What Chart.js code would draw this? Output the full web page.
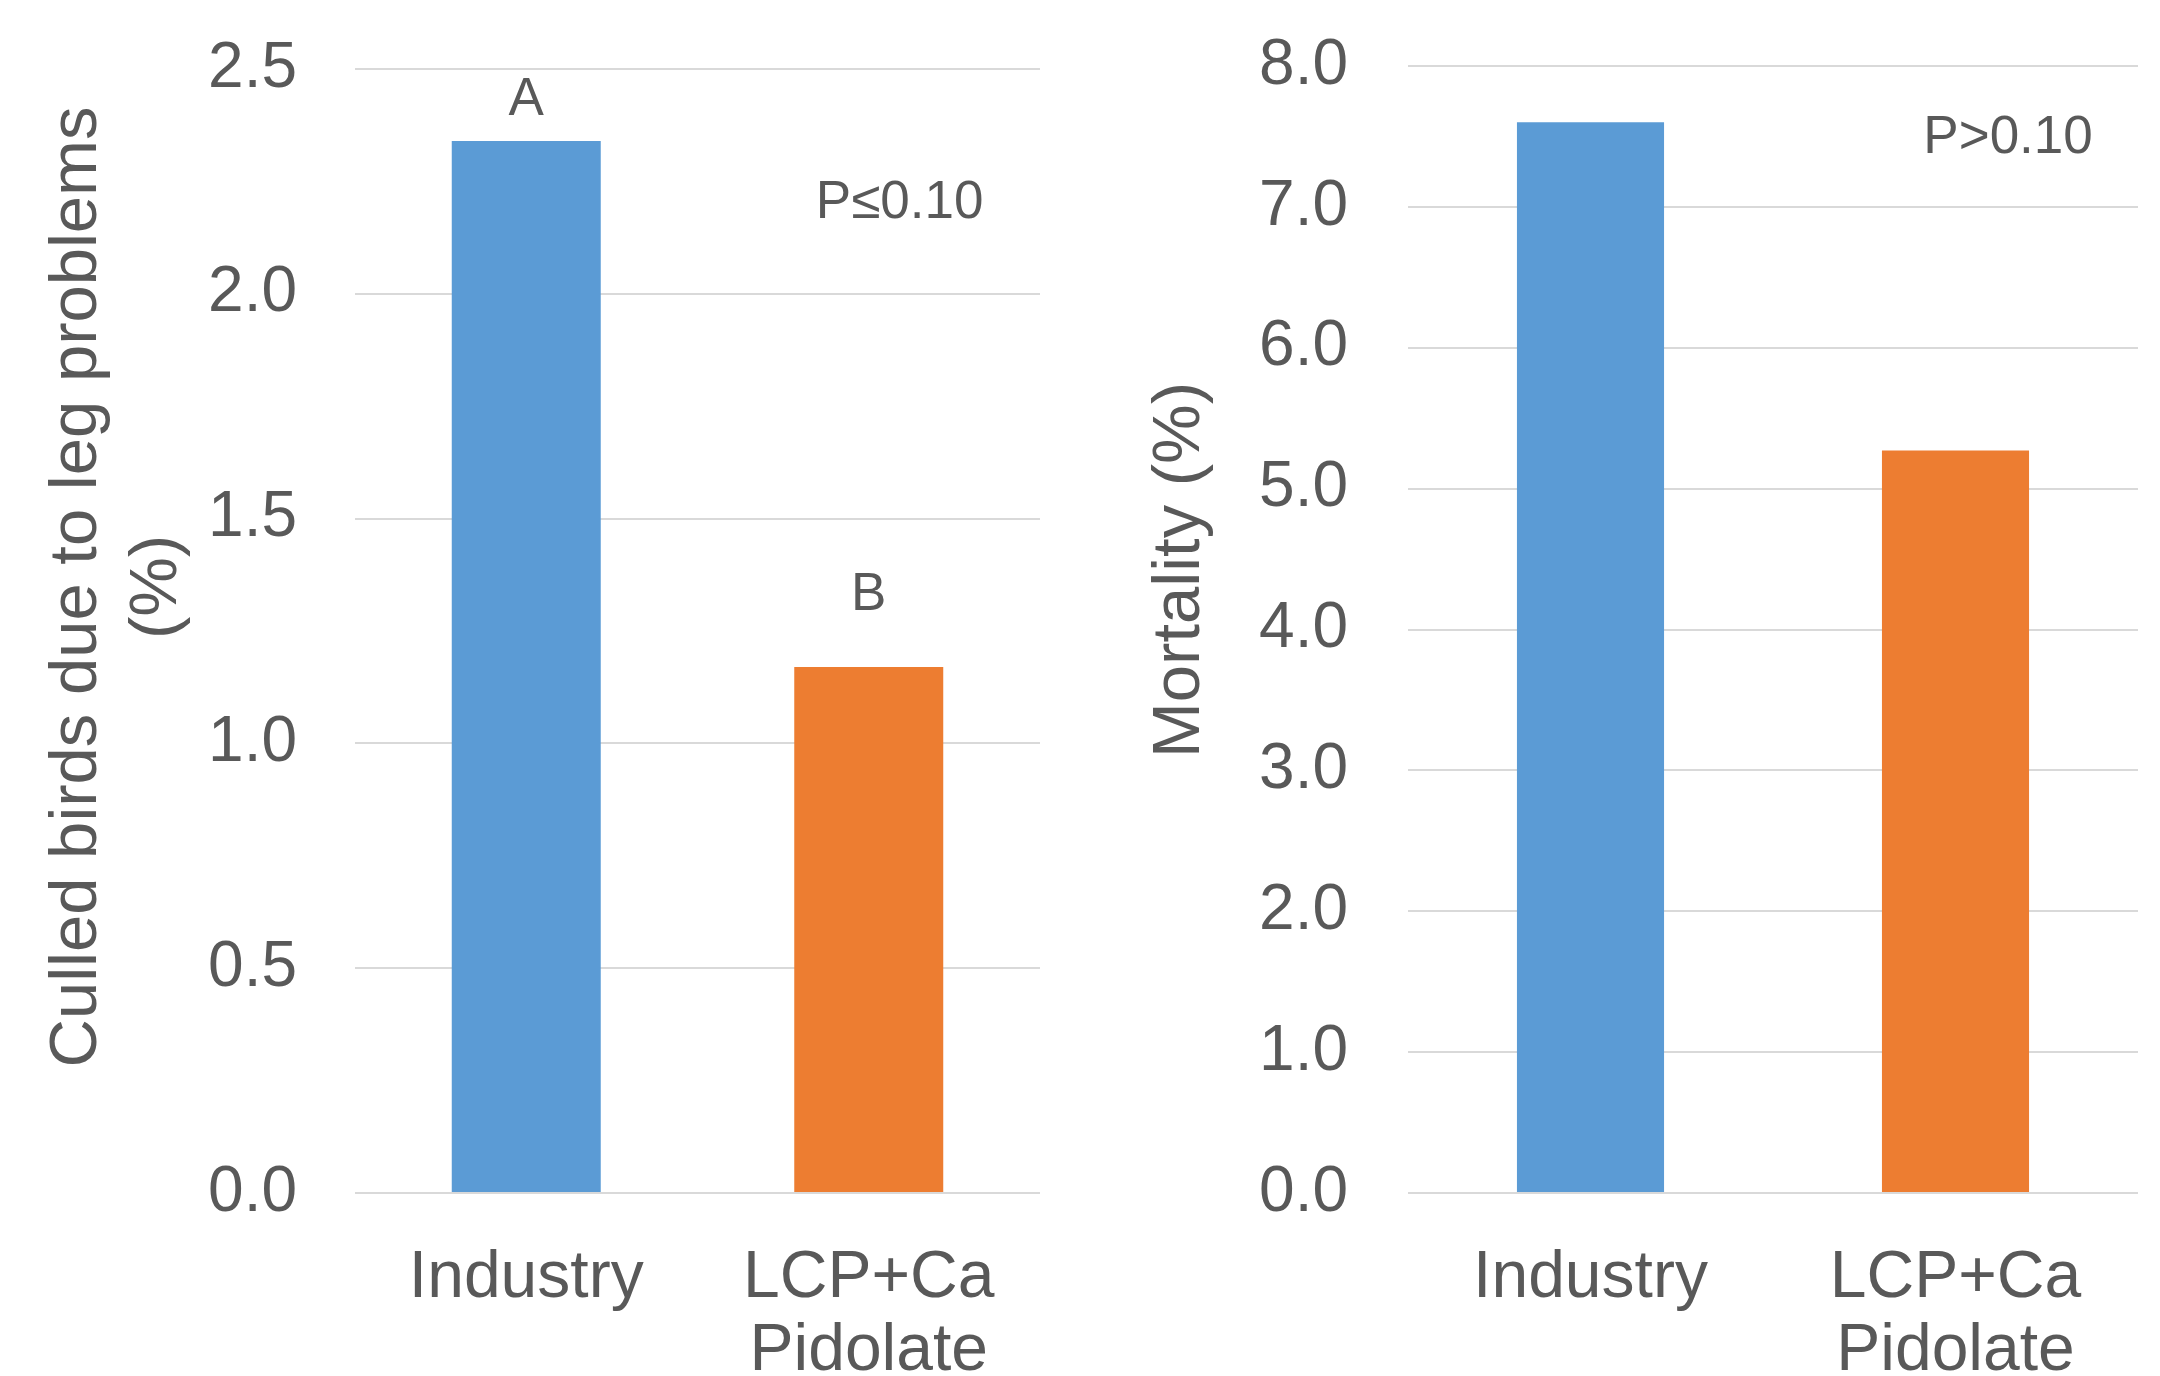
<!DOCTYPE html>
<html>
<head>
<meta charset="utf-8">
<script src="https://cdn.jsdelivr.net/npm/chart.js@4"></script>
<style>
  html, body { margin: 0; padding: 0; background: #fff; }
  #wrap { position: relative; width: 2160px; height: 1376px; overflow: hidden; }
  canvas { position: absolute; top: 0; }
  #culled { left: 0; }
  #mortality { left: 1080px; }
</style>
</head>
<body>
<div id="wrap">
  <canvas id="culled" width="1080" height="1376"></canvas>
  <canvas id="mortality" width="1080" height="1376"></canvas>
</div>
<script>
// Treatments
const categories = ['Industry', ['LCP+Ca', 'Pidolate']];

// Culled birds due to leg problems (%)
const culledValues = [2.34, 1.17];
const culledTicks = [0, 0.5, 1.0, 1.5, 2.0, 2.5];
const culledTitle = ['Culled birds due to leg problems', '(%)'];
const culledNotes = [
  { text: 'A', x: 0, y: 2.43 },
  { text: 'B', x: 1, y: 1.33 },
  { text: 'P\u22640.10', x: 1.09, y: 2.20 }
];

// Mortality (%)
const mortalityValues = [7.60, 5.27];
const mortalityTicks = [0, 1, 2, 3, 4, 5, 6, 7, 8];
const mortalityTitle = ['Mortality (%)'];
const mortalityNotes = [
  { text: 'P>0.10', x: 1.144, y: 7.485 }
];

const barColors = ['#5B9BD5', '#ED7D31'];
const TEXT = '#595959';
const GRID = '#d9d9d9';
const FONT = '"Liberation Sans", Arial, sans-serif';

// Draws the rotated axis title and the letter / P-value notes
const notesPlugin = {
  id: 'notes',
  afterDraw(chart, args, opts) {
    const { ctx, scales } = chart;
    ctx.save();
    ctx.fillStyle = TEXT;
    ctx.textAlign = 'center';
    ctx.textBaseline = 'middle';
    ctx.font = opts.noteSize + 'px ' + FONT;
    for (const n of opts.notes) {
      ctx.fillText(n.text, scales.x.getPixelForValue(n.x), scales.y.getPixelForValue(n.y));
    }
    ctx.font = opts.titleSize + 'px ' + FONT;
    ctx.translate(opts.titleX, opts.titleY);
    ctx.rotate(-Math.PI / 2);
    opts.title.forEach((line, i) => ctx.fillText(line, 0, i * opts.titleLineHeight));
    ctx.restore();
  }
};

// Keep the plot area fixed: no extra room reserved for half-labels
function noPadding(s) {
  s.paddingTop = 0;
  s.paddingBottom = 0;
  s.paddingLeft = 0;
  s.paddingRight = 0;
}

function makeChart(id, values, ticks, max, title, notes, cfg) {
  return new Chart(document.getElementById(id), {
    type: 'bar',
    data: {
      labels: categories,
      datasets: [{
        data: values,
        backgroundColor: barColors,
        borderWidth: 0,
        barPercentage: cfg.barPct,
        categoryPercentage: 1
      }]
    },
    options: {
      responsive: false,
      animation: false,
      devicePixelRatio: 1,
      layout: { padding: { top: cfg.top, right: cfg.right, left: 0, bottom: 0 } },
      plugins: {
        legend: { display: false },
        tooltip: { enabled: false },
        notes: {
          notes: notes,
          noteSize: 53,
          title: title,
          titleSize: 67,
          titleLineHeight: 80,
          titleX: cfg.titleX,
          titleY: cfg.titleY
        }
      },
      scales: {
        x: {
          grid: { display: false, drawTicks: false },
          border: { display: false },
          ticks: {
            color: TEXT,
            padding: 49,
            maxRotation: 0,
            autoSkip: false,
            font: { family: FONT, size: 66, lineHeight: 1.11 }
          },
          afterFit: s => { s.height = 183; noPadding(s); }
        },
        y: {
          min: 0,
          max: max,
          grid: { color: GRID, lineWidth: 2, drawTicks: false },
          border: { display: false },
          ticks: {
            color: TEXT,
            padding: cfg.tickPad,
            font: { family: FONT, size: 64 },
            callback: v => Number(v).toFixed(1)
          },
          afterBuildTicks: s => { s.ticks = ticks.map(v => ({ value: v })); },
          afterFit: s => { s.width = cfg.axisWidth; noPadding(s); }
        }
      }
    },
    plugins: [notesPlugin]
  });
}

makeChart('culled', culledValues, culledTicks, 2.5, culledTitle, culledNotes, {
  barPct: 0.435, top: 69, right: 40, axisWidth: 355, tickPad: 58, titleX: 78, titleY: 587
});
makeChart('mortality', mortalityValues, mortalityTicks, 8, mortalityTitle, mortalityNotes, {
  barPct: 0.403, top: 66, right: 22, axisWidth: 328, tickPad: 60, titleX: 101, titleY: 570
});
</script>
</body>
</html>
